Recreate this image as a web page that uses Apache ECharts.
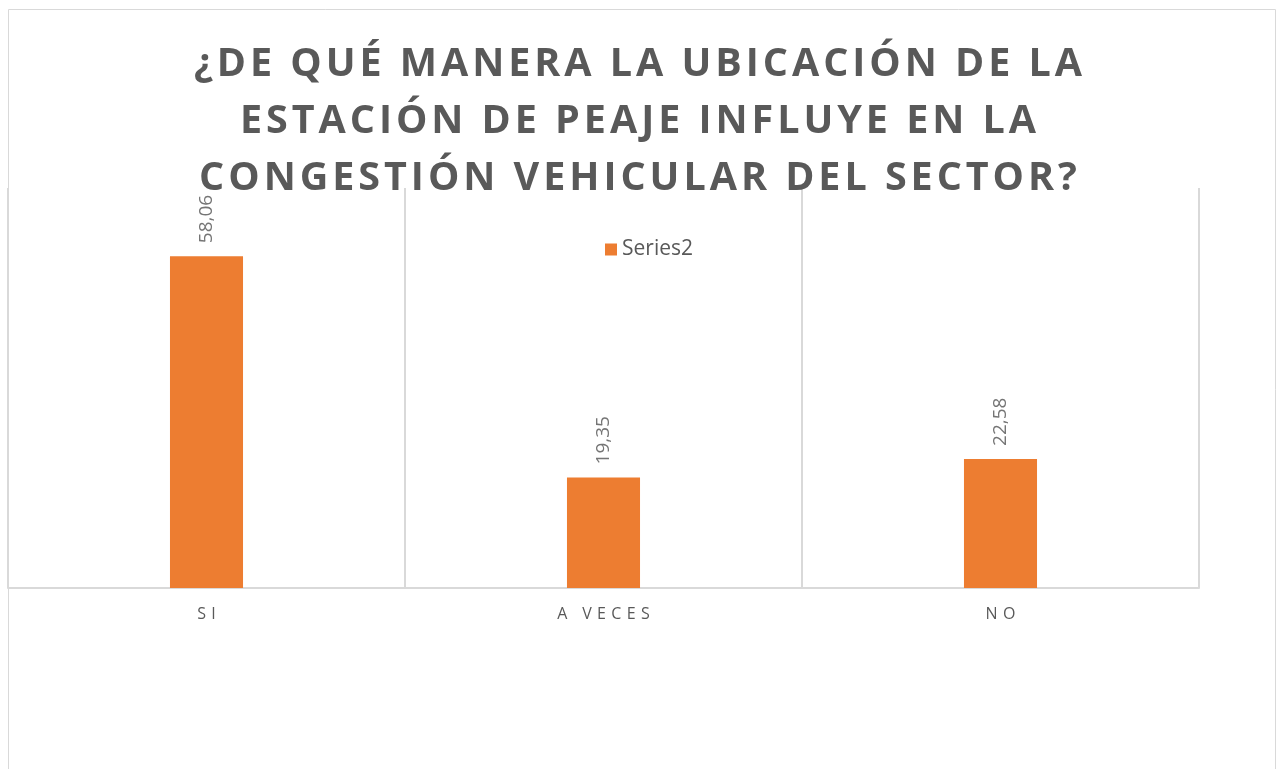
<!DOCTYPE html>
<html><head><meta charset="utf-8">
<script src="https://cdn.jsdelivr.net/npm/echarts@6/dist/echarts.min.js"></script>
<style>html,body{margin:0;padding:0;background:#fff}#c{width:1276px;height:769px}</style>
</head><body><div id="c"></div>
<script>
const titleLines = ["¿DE QUÉ MANERA LA UBICACIÓN DE LA", "ESTACIÓN DE PEAJE INFLUYE EN LA", "CONGESTIÓN VEHICULAR DEL SECTOR?"];
const categories = ["SI", "A VECES", "NO"];
const seriesName = "Series2";
const values = [58.06, 19.35, 22.58];

const spaced = (s, sp) => s.split("").join(sp);
const chart = echarts.init(document.getElementById('c'));
chart.setOption({
  animation: false,
  graphic: [{
    type: 'rect', shape: {x: 8.5, y: 9.5, width: 1267, height: 800},
    style: {fill: 'none', stroke: '#d9d9d9', lineWidth: 1}, silent: true, z: -1
  }],
  title: {
    text: titleLines.map(l => spaced(l, "\u200A")).join("\n"),
    left: 'center', top: 31,
    textStyle: {fontFamily: 'Open Sans', fontWeight: 'bold', fontSize: 39.5, color: '#595959', lineHeight: 57}
  },
  legend: {
    data: [seriesName], top: 234, left: 600,
    itemWidth: 12, itemHeight: 12, icon: 'rect', itemGap: 5,
    textStyle: {fontFamily: 'Open Sans', fontSize: 21, color: '#595959'}
  },
  grid: {left: 8, right: 77, top: 188, bottom: 181},
  xAxis: {
    type: 'category', data: categories,
    axisLine: {lineStyle: {color: '#d9d9d9', width: 2}},
    axisTick: {show: false},
    splitLine: {show: true, lineStyle: {color: '#d9d9d9', width: 2}},
    axisLabel: {fontFamily: 'Open Sans', fontSize: 16, color: '#595959', margin: 18,
      formatter: v => spaced(v, "\u2004")}
  },
  yAxis: {type: 'value', min: 0, max: 70, interval: 10, show: false, splitLine: {show: false}},
  series: [{
    name: seriesName, type: 'bar', data: values, barWidth: '18.4%',
    itemStyle: {color: '#ED7D31'},
    label: {show: true, position: 'top', rotate: 90, align: 'left', verticalAlign: 'middle', distance: 13,
      fontFamily: 'Open Sans', fontSize: 19, color: '#757575',
      formatter: p => p.value.toFixed(2).replace('.', ',')}
  }]
});
</script></body></html>
